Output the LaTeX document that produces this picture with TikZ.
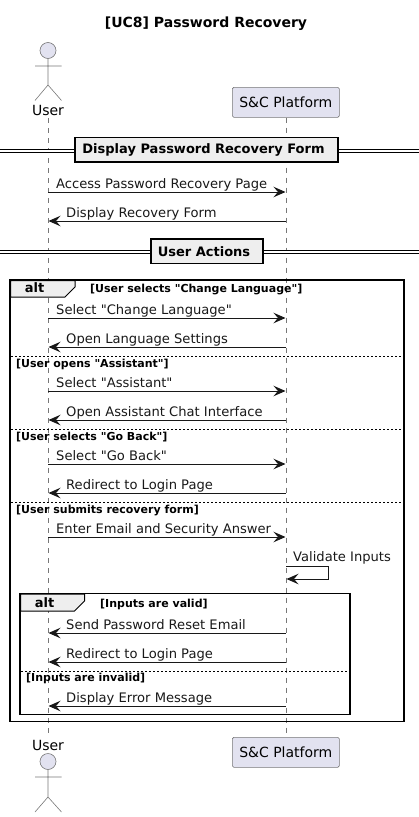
\documentclass[tikz,border=0pt]{standalone}
\usepackage{fontspec}
\newfontfamily\umlfont{DejaVu Sans}
\AtBeginDocument{\umlfont}
\usetikzlibrary{arrows.meta}
\definecolor{partfill}{HTML}{E2E2F0}
\definecolor{partline}{HTML}{777777}
\definecolor{tabfill}{HTML}{EEEEEE}
\definecolor{msgline}{HTML}{181818}

\begin{document}
\begin{tikzpicture}[
x=1pt,y=-1pt,
partbox/.style={
  draw=partline,
  fill=partfill,
  rounded corners=1.5pt,
  line width=.6pt,
  minimum width=107pt,
  minimum height=30pt,
  inner sep=0pt,
  font=\fontsize{14}{16}\selectfont
  },
actorname/.style={
  minimum height=16pt,
  inner sep=0pt,
  font=\fontsize{14}{16}\selectfont
  },
actorhead/.style={
  draw=partline,
  fill=partfill,
  circle,
  line width=.6pt,
  minimum size=16pt,
  inner sep=0pt
  },
actorline/.style={draw=partline,line width=.6pt},
lifeline/.style={draw=partline,line width=.6pt,dash pattern=on 5pt off 5pt},
msgtext/.style={
  anchor=base west,
  inner sep=0pt,
  text=msgline,
  font=\fontsize{13.1}{15}\selectfont
  },
msg/.style={
  draw=msgline,
  line width=1pt,
  -{Stealth[length=12pt,width=10.5pt,inset=4.5pt]}
  },
divbox/.style={
  draw=black,
  fill=tabfill,
  line width=1.6pt,
  minimum height=24.5pt,
  inner sep=0pt,
  font=\bfseries\fontsize{13}{15}\selectfont
  },
divline/.style={
  draw=black,
  line width=1pt,
  double=white,
  double distance=1.6pt
  },
frameline/.style={draw=black,line width=1.6pt},
tabshape/.style={draw=black,fill=tabfill,line width=1pt},
alttext/.style={
  anchor=base,
  inner sep=0pt,
  font=\bfseries\fontsize{13}{15}\selectfont
  },
condtext/.style={
  anchor=base west,
  inner sep=0pt,
  font=\bfseries\fontsize{11}{13}\selectfont
  },
elseline/.style={draw=black,line width=.7pt,dash pattern=on 2pt off 2pt}
]
\useasboundingbox (0,0) rectangle (419,817);
\node[font=\bfseries\fontsize{14}{16}\selectfont,inner sep=0pt] (title) at (206,24) {[UC8] Password Recovery};
\node[actorname] (usertop) at (48,110) {User};
\node[actorname] (userbot) at (48,745) {User};
\node[partbox] (platformtop) at (285.8,102.3) {S\&C Platform};
\node[partbox] (platformbot) at (285.8,752.3) {S\&C Platform};
\draw[lifeline] (usertop.south) -- (userbot.north);
\draw[lifeline,shorten >=3pt] (platformtop.south) -- (platformbot.north);
\foreach \Name/\Y in {headtop/50.5,headbot/761.5}
  \node[actorhead] (\Name) at (48,\Y) {};
\draw[actorline] (headtop.south) -- (48,85) (35,66) -- (61.5,66) (35,100.5) -- (48,85) -- (61.5,100.5);
\draw[actorline] (headbot.south) -- (48,797) (35,777) -- (61.5,777) (35,812) -- (48,797) -- (61.5,812);
\coordinate (dl1) at (0,150.7);
\coordinate (dr1) at (419,150.7);
\coordinate (dl2) at (0,251.7);
\coordinate (dr2) at (419,251.7);
\draw[divline] (dl1) -- (dr1);
\draw[divline] (dl2) -- (dr2);
\node[divbox,minimum width=263pt] (divform) at (206.5,149.8) {Display Password Recovery Form\kern6pt};
\node[divbox,minimum width=112pt] (divuser) at (207,251.3) {User Actions\kern6pt};
\node[frameline,draw,minimum width=393.5pt,minimum height=441.5pt,inner sep=0pt] (outer) at (207,500.8) {};
\node[frameline,draw,minimum width=329.5pt,minimum height=120.7pt,inner sep=0pt] (inner) at (185,654) {};
\draw[tabshape] (10.5,280.5) -- (75,280.5) -- (75,287) -- (65,297) -- (10.5,297) -- cycle;
\draw[tabshape] (20.5,594) -- (84.5,594) -- (84.5,601) -- (74.5,611) -- (20.5,611) -- cycle;
\node[alttext] (alto) at (34.5,292.5) {alt};
\node[alttext] (alti) at (44.5,607.5) {alt};
\foreach \Y/\Xa/\Xb in {356/11/403,429/11/403,502/11/403,671/21/349}
  \draw[elseline] (\Xa,\Y) -- (\Xb,\Y);
\foreach \X/\Y/\Text in {
  90/292/{[User selects "Change Language"]},
  16/367/{[User opens "Assistant"]},
  16/440/{[User selects "Go Back"]},
  16/513/{[User submits recovery form]},
  100/607/{[Inputs are valid]},
  26/681/{[Inputs are invalid]}}
  \node[condtext] (c\Y) at (\X,\Y) {\Text};
\foreach \Y/\Text in {
  192/{Access Password Recovery Page},
  318/{Select "Change Language"},
  391/{Select "Assistant"},
  464/{Select "Go Back"},
  537/{Enter Email and Security Answer}}
{
  \coordinate (u\Y) at (48,\Y);
  \coordinate (p\Y) at (285.5,\Y);
  \draw[msg] (u\Y) -- (p\Y);
  \node[msgtext] (m\Y) at (56,\Y-4) {\Text};
}
\foreach \Y/\Text in {
  221/{Display Recovery Form},
  347/{Open Language Settings},
  420/{Open Assistant Chat Interface},
  493/{Redirect to Login Page},
  633/{Send Password Reset Email},
  662/{Redirect to Login Page},
  706/{Display Error Message}}
{
  \coordinate (u\Y) at (48.5,\Y);
  \coordinate (p\Y) at (285.5,\Y);
  \draw[msg] (p\Y) -- (u\Y);
  \node[msgtext] (m\Y) at (66,\Y-4) {\Text};
}
\coordinate (s1) at (286,566);
\coordinate (s2) at (328.5,566);
\coordinate (s3) at (328.5,579);
\coordinate (s4) at (286.5,579);
\draw[msg] (s1) -- (s2) -- (s3) -- (s4);
\node[msgtext] (validate) at (293,561.5) {Validate Inputs};
\end{tikzpicture}
\end{document}
